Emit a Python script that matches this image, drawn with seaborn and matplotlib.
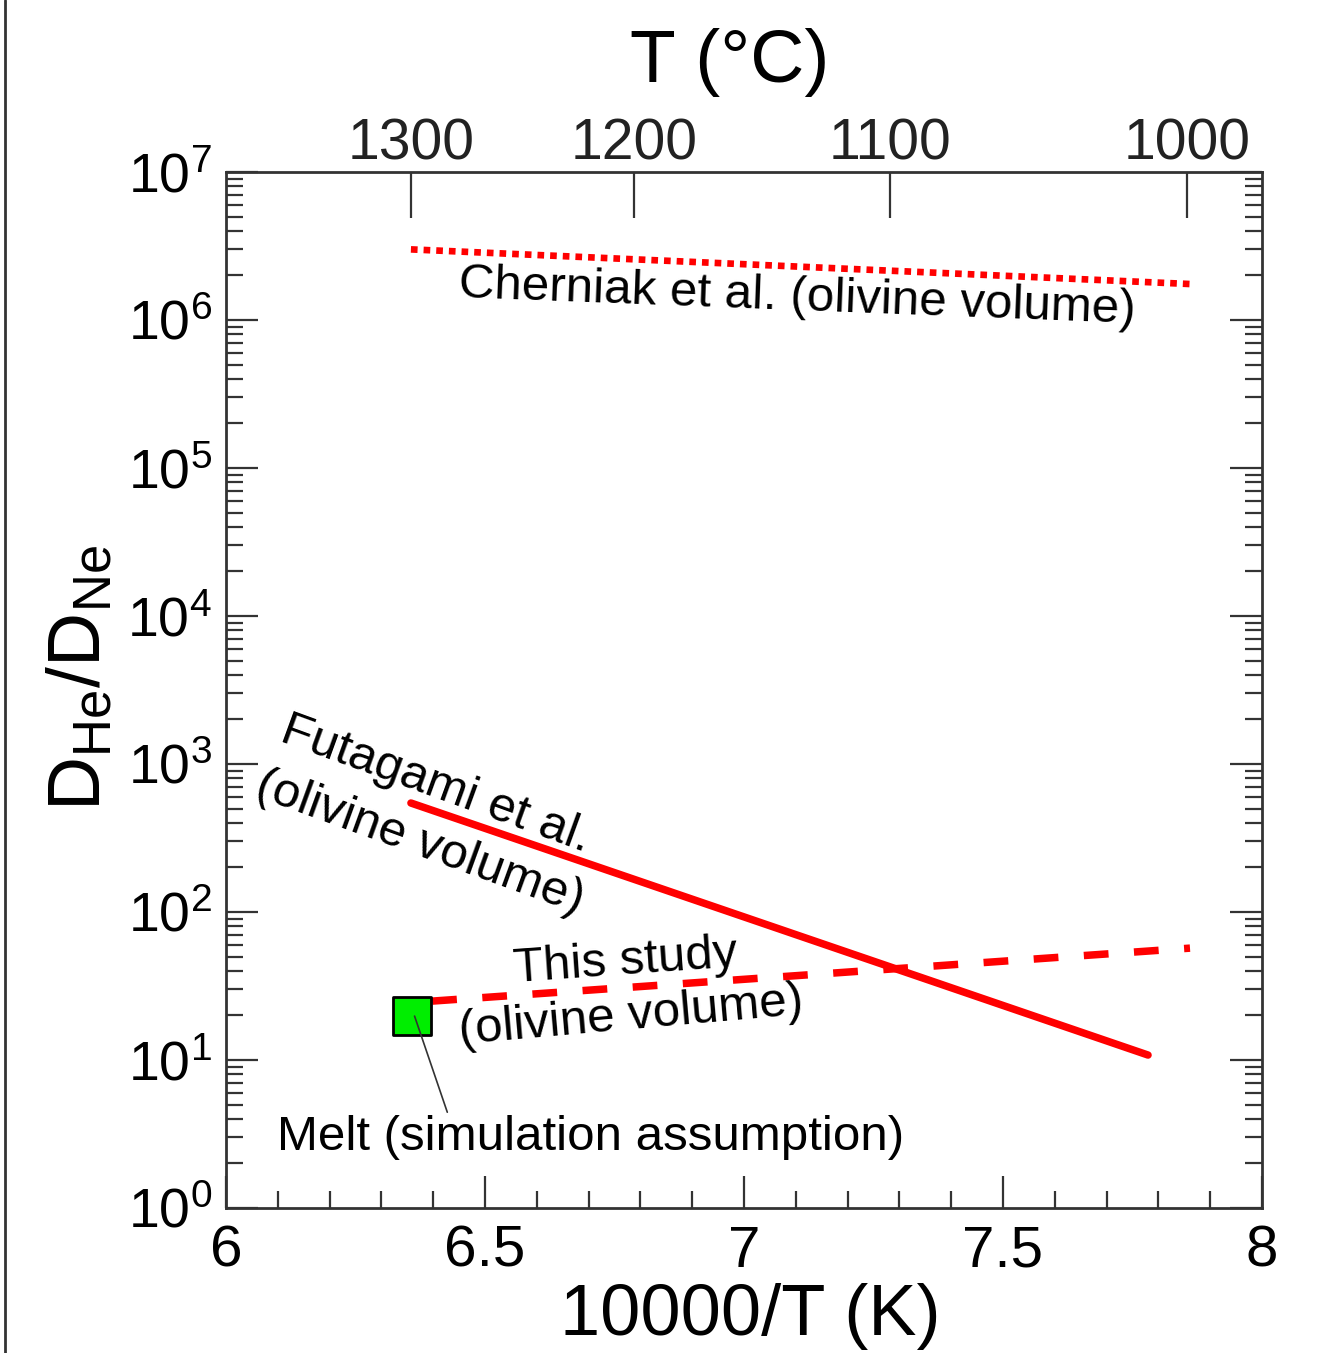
import numpy as np
import pandas as pd
import seaborn as sns
import matplotlib
matplotlib.use("Agg")
import matplotlib.pyplot as plt
from matplotlib.ticker import FixedLocator, NullLocator, LogLocator, NullFormatter, FuncFormatter

# ---- data ----
cherniak_x = [6.357, 7.861]
cherniak_y = [3.0e6, 1.75e6]
futagami_x = [6.357, 7.78]
futagami_y = [545.0, 10.8]
thisstudy_x = [6.398, 7.861]
thisstudy_y = [25.0, 57.0]
melt_x = [6.359]
melt_y = [19.8]
top_T_celsius = [1300, 1200, 1100, 1000]
bottom_ticks = [6, 6.5, 7, 7.5, 8]
bottom_labels = ["6", "6.5", "7", "7.5", "8"]

sns.set_theme(style="white")
plt.rcParams['font.family'] = ['Liberation Sans', 'DejaVu Sans']
plt.rcParams['mathtext.fontset'] = 'custom'
plt.rcParams['mathtext.rm'] = 'Liberation Sans'
plt.rcParams['mathtext.it'] = 'Liberation Sans:italic'
plt.rcParams['mathtext.bf'] = 'Liberation Sans:bold'

fig = plt.figure(figsize=(13.22, 13.53), dpi=100)
ax = fig.add_axes([226/1322, 1 - 1208/1353, 1036/1322, 1036/1353])

df_c = pd.DataFrame({"x": cherniak_x, "y": cherniak_y})
df_f = pd.DataFrame({"x": futagami_x, "y": futagami_y})
df_t = pd.DataFrame({"x": thisstudy_x, "y": thisstudy_y})
df_m = pd.DataFrame({"x": melt_x, "y": melt_y})

sns.lineplot(data=df_c, x="x", y="y", ax=ax, color="#ff0000", lw=4.8,
             linestyle=(0, (1.0, 0.9)), dash_capstyle="butt")
sns.lineplot(data=df_f, x="x", y="y", ax=ax, color="#ff0000", lw=5.4)
sns.lineplot(data=df_t, x="x", y="y", ax=ax, color="#ff0000", lw=5.4,
             linestyle=(0, (3.3, 3.4)))
sns.scatterplot(data=df_m, x="x", y="y", ax=ax, marker="s", s=28**2,
                color="#00ee00", edgecolor="black", linewidth=2, zorder=5)

ax.set_yscale("log")
ax.set_xlim(6, 8)
ax.set_ylim(1, 1e7)

spine_c = "#333333"
for s in ax.spines.values():
    s.set_color(spine_c)
    s.set_linewidth(2)

# bottom x ticks
ax.xaxis.set_major_locator(FixedLocator(bottom_ticks))
ax.set_xticklabels(bottom_labels)
ax.xaxis.set_minor_locator(FixedLocator(np.arange(6.1, 8.0, 0.1)))
ax.tick_params(axis="x", which="major", direction="in", length=23, width=1.6,
               color=spine_c, labelsize=42, labelcolor="black", pad=12,
               top=False, bottom=True)
ax.tick_params(axis="x", which="minor", direction="in", length=12, width=1.6,
               color=spine_c, top=False, bottom=True)

# y ticks
ax.yaxis.set_major_locator(LogLocator(base=10, numticks=20))
ax.yaxis.set_minor_locator(LogLocator(base=10, subs=np.arange(2, 10), numticks=20))
ax.yaxis.set_minor_formatter(NullFormatter())
ax.yaxis.set_major_formatter(FuncFormatter(lambda v, p: r"$10^{%d}$" % round(np.log10(v))))
ax.tick_params(axis="y", which="major", direction="in", length=23, width=1.6,
               color=spine_c, labelsize=40, labelcolor="black", pad=10,
               left=True, right=True)
ax.tick_params(axis="y", which="minor", direction="in", length=12, width=1.6,
               color=spine_c, left=True, right=True)

ax.set_xlabel("10000/T (K)", fontsize=52, color="black")
ax.xaxis.set_label_coords(0.506, -0.072)
ax.set_ylabel(r"D$_{\mathregular{He}}$/D$_{\mathregular{Ne}}$", fontsize=54, color="black")
ax.yaxis.set_label_coords(-0.107, 0.512)

# top axis in Celsius
ax2 = ax.twiny()
ax2.set_xlim(ax.get_xlim())
ax2.set_xticks([10000 / (t + 273.15) for t in top_T_celsius])
ax2.set_xticklabels([str(t) for t in top_T_celsius])
ax2.xaxis.set_minor_locator(NullLocator())
ax2.tick_params(axis="x", direction="in", length=33, width=1.6, color=spine_c,
                labelsize=41, labelcolor="#222222", pad=0)
ax2.set_xlabel("T (°C)", fontsize=54, color="black")
ax2.xaxis.set_label_coords(0.486, 1.087)
for s in ax2.spines.values():
    s.set_visible(False)

# annotations
fs = 35.5
ax.text(7.102, 10**6.149, "Cherniak et al. (olivine volume)", fontsize=fs,
        ha="center", va="center", rotation=-2.2, rotation_mode="anchor", color="black")
ax.text(6.405, 10**2.858, "Futagami et al.", fontsize=fs,
        ha="center", va="center", rotation=-20, rotation_mode="anchor", color="black")
ax.text(6.3745, 10**2.466, "(olivine volume)", fontsize=fs,
        ha="center", va="center", rotation=-20, rotation_mode="anchor", color="black")
ax.text(6.772, 10**1.662, "This study", fontsize=fs,
        ha="center", va="center", rotation=4, rotation_mode="anchor", color="black")
ax.text(6.782, 10**1.291, "(olivine volume)", fontsize=fs,
        ha="center", va="center", rotation=5, rotation_mode="anchor", color="black")
ax.annotate("Melt (simulation assumption)", xy=(melt_x[0] + 0.005, melt_y[0]),
            xytext=(6.703, 10**0.473), fontsize=fs, ha="center", va="center",
            color="black", zorder=6,
            arrowprops=dict(arrowstyle="-", color="#333333", lw=1.2,
                            shrinkA=0, shrinkB=0, relpos=(0.274, 1.0)))

# left border line of the image
fig.add_artist(plt.Line2D([5/1322, 5/1322], [0, 1], transform=fig.transFigure,
                          color="#333333", lw=2))

fig.savefig("out.png", dpi=100)
